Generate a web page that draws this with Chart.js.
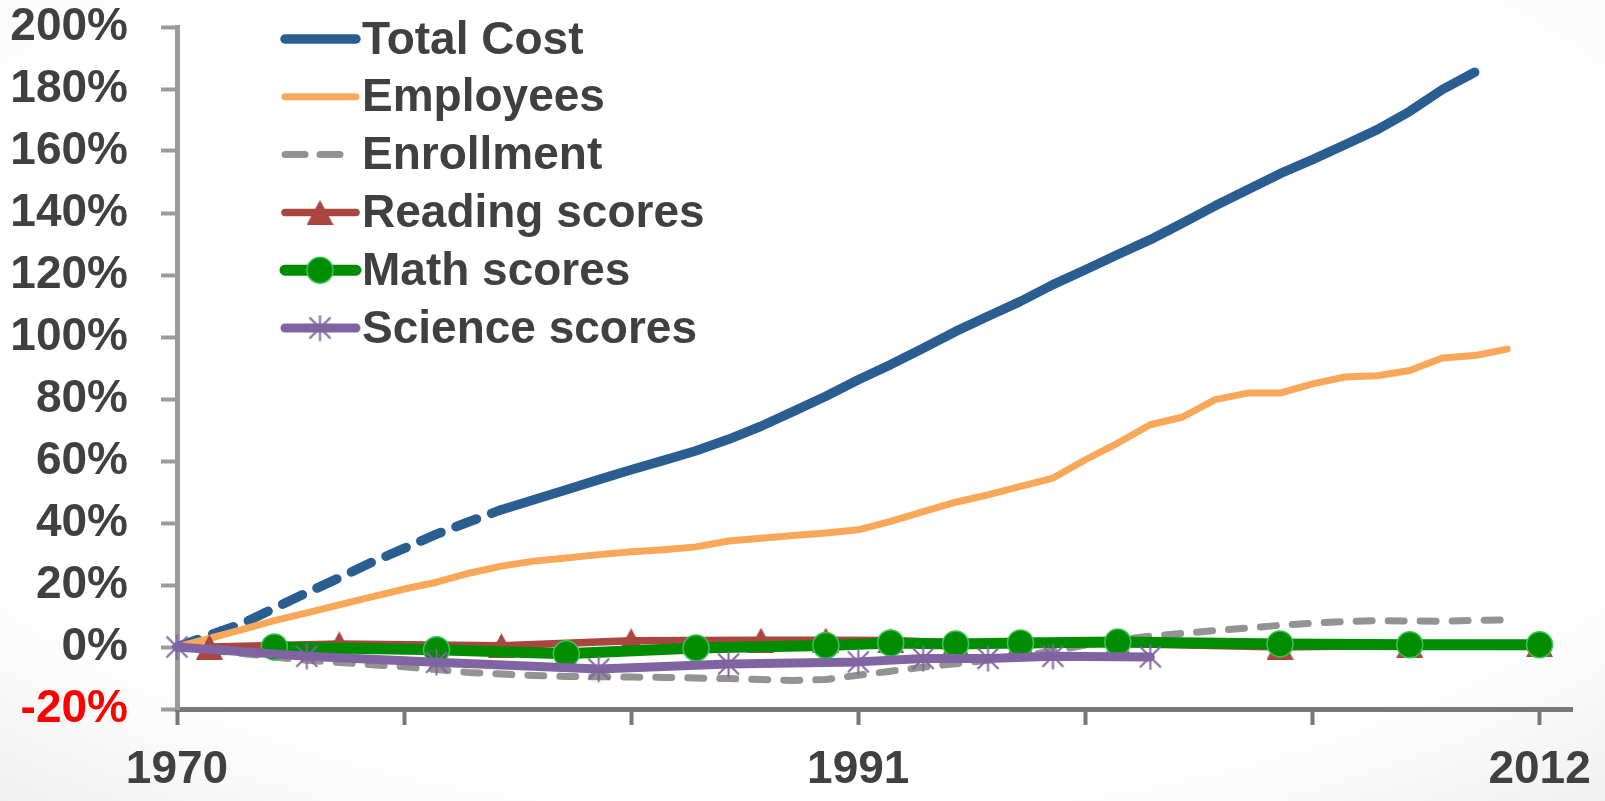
<!DOCTYPE html>
<html>
<head>
<meta charset="utf-8">
<script src="https://cdn.jsdelivr.net/npm/chart.js@4.4.1/dist/chart.umd.min.js"></script>
<style>
    html, body { margin: 0; padding: 0; }
    body {
        width: 1605px;
        height: 801px;
        overflow: hidden;
        background: radial-gradient(ellipse 80% 80% at 50% 42%, #ffffff 72%, #eeeeee 100%);
    }
    #wrap { position: relative; width: 1605px; height: 801px; }
</style>
</head>
<body>
<div id="wrap"><canvas id="trendChart"></canvas></div>
<script>
// Percent change since the first year of each series
const firstYear = 1970;

// yearly series, 1970 onward
const totalCost = [0, 3.8, 7.5, 12.5, 17.5, 22.3, 27.3, 31.8, 36.4, 40.4,
    44.3, 47.5, 50.7, 54.0, 57.2, 60.2, 63.3, 67.0, 71.2, 76.0,
    80.9, 86.2, 91.1, 96.4, 101.8, 106.7, 111.5, 116.9, 121.7, 126.6,
    131.4, 136.8, 142.3, 147.5, 152.7, 157.2, 162.0, 166.9, 172.8, 179.8,
    185.4];
const employees = [0, 2.8, 5.6, 8.5, 11.0, 13.6, 16.2, 18.7, 20.9, 23.8,
    26.1, 27.7, 28.7, 29.8, 30.7, 31.4, 32.3, 34.2, 35.1, 36.0,
    36.8, 37.8, 40.5, 43.7, 46.7, 49.1, 51.8, 54.5, 60.4, 65.8,
    71.7, 74.2, 79.8, 81.9, 81.9, 84.9, 87.1, 87.5, 89.2, 93.2,
    94.0, 96.1];
const enrollment = [0, -1.0, -2.1, -3.2, -4.3, -5.0, -5.7, -6.4, -7.3, -8.2,
    -8.7, -9.2, -9.5, -9.6, -9.7, -9.8, -10.0, -10.2, -10.5, -10.8,
    -10.5, -9.1, -7.8, -6.5, -5.4, -4.3, -3.0, -1.3, 0.6, 2.3,
    3.5, 4.4, 5.3, 6.1, 7.0, 7.7, 8.2, 8.5, 8.4, 8.3,
    8.6, 8.7];
// total cost is estimated (dashed) up to this index
const costEstimatedUntil = 10;

// test score series, irregular years
const readingYears = [1971, 1975, 1980, 1984, 1988, 1990, 1992, 1994, 1996, 1999, 2004, 2008, 2012];
const readingScores = [0, 1.0, 0.4, 2.0, 2.2, 2.2, 2.1, 1.3, 1.2, 1.1, 0, 0.6, 0.8];
const mathYears = [1973, 1978, 1982, 1986, 1990, 1992, 1994, 1996, 1999, 2004, 2008, 2012];
const mathScores = [0, -0.9, -2.2, -0.3, 0.5, 1.3, 1.0, 1.3, 1.6, 1.0, 0.7, 0.7];
const scienceYears = [1970, 1974, 1978, 1983, 1987, 1991, 1993, 1995, 1997, 2000];
const scienceScores = [0, -3.0, -4.9, -7.1, -5.5, -4.8, -3.7, -3.7, -3.0, -3.2];

// axis ticks
const xTicks = [1970, 1977, 1984, 1991, 1998, 2005, 2012];
const xLabels = [1970, 1991, 2012];

const FONT = 'Liberation Sans';
const TEXT = '#404040';

function annual(values) {
    return values.map((v, i) => ({ x: firstYear + i, y: v }));
}
function paired(years, values) {
    return years.map((yr, i) => ({ x: yr, y: values[i] }));
}

// Excel-like markers, centred on their bounding box
function triangleMarker(color) {
    const c = document.createElement('canvas');
    c.width = 27; c.height = 25;
    const g = c.getContext('2d');
    g.fillStyle = color;
    g.beginPath();
    g.moveTo(13.5, 0);
    g.lineTo(27, 25);
    g.lineTo(0, 25);
    g.closePath();
    g.fill();
    return c;
}
function starMarker(color) {
    const c = document.createElement('canvas');
    c.width = 27; c.height = 27;
    const g = c.getContext('2d');
    g.strokeStyle = color;
    g.lineWidth = 2;
    g.beginPath();
    g.moveTo(13.5, 0.5); g.lineTo(13.5, 26.5);
    g.moveTo(3, 3); g.lineTo(24, 24);
    g.moveTo(24, 3); g.lineTo(3, 24);
    g.stroke();
    return c;
}

// Legend stacked in the upper left corner of the plot
const sideLegend = {
    id: 'sideLegend',
    afterDraw(chart) {
        const ctx = chart.ctx;
        chart.data.datasets.forEach((ds, i) => {
            const y = 39 + i * 57.8;
            ctx.save();
            ctx.strokeStyle = ds.borderColor;
            ctx.lineWidth = ds.borderWidth;
            ctx.lineCap = 'round';
            ctx.beginPath();
            if (ds.borderDash) {
                ctx.setLineDash([20, 15]);
                ctx.moveTo(285, y);
                ctx.lineTo(340, y);
            } else {
                ctx.moveTo(285, y);
                ctx.lineTo(356, y);
            }
            ctx.stroke();
            ctx.setLineDash([]);
            if (ds.pointRadius > 0) {
                ctx.fillStyle = ds.pointBackgroundColor;
                ctx.strokeStyle = ds.pointBorderColor;
                ctx.lineWidth = ds.pointBorderWidth;
                Chart.helpers.drawPoint(ctx, {
                    pointStyle: ds.pointStyle,
                    radius: ds.pointRadius,
                    rotation: 0,
                    borderWidth: ds.pointBorderWidth
                }, 320, y);
            }
            ctx.font = 'bold 46px "' + FONT + '"';
            ctx.fillStyle = TEXT;
            ctx.textAlign = 'left';
            ctx.textBaseline = 'middle';
            ctx.fillText(ds.label, 362, y + 2);
            ctx.restore();
        });
    }
};

const ctx = document.getElementById('trendChart').getContext('2d');
new Chart(ctx, {
    type: 'line',
    data: {
        datasets: [
            {
                label: 'Total Cost',
                data: annual(totalCost),
                borderColor: '#2A5E91',
                borderWidth: 9.5,
                pointRadius: 0,
                order: 5,
                segment: {
                    borderDash: c => c.p1DataIndex <= costEstimatedUntil ? [22, 16] : undefined
                }
            },
            {
                label: 'Employees',
                data: annual(employees),
                borderColor: '#F9A85A',
                borderWidth: 7,
                pointRadius: 0,
                order: 4
            },
            {
                label: 'Enrollment',
                data: annual(enrollment),
                borderColor: '#939393',
                borderWidth: 7,
                borderDash: [16, 16],
                pointRadius: 0,
                order: 3
            },
            {
                label: 'Reading scores',
                data: paired(readingYears, readingScores),
                borderColor: '#A8463F',
                borderWidth: 7.5,
                pointStyle: triangleMarker('#A8463F'),
                pointRadius: 13,
                pointBackgroundColor: '#A8463F',
                pointBorderColor: '#A8463F',
                pointBorderWidth: 0,
                order: 2
            },
            {
                label: 'Math scores',
                data: paired(mathYears, mathScores),
                borderColor: '#008C00',
                borderWidth: 11,
                pointStyle: 'circle',
                pointRadius: 13,
                pointBackgroundColor: '#008C00',
                pointBorderColor: '#3CC45C',
                pointBorderWidth: 1.5,
                order: 1
            },
            {
                label: 'Science scores',
                data: paired(scienceYears, scienceScores),
                borderColor: '#8064A2',
                borderWidth: 9,
                pointStyle: starMarker('#8064A2'),
                pointRadius: 13,
                pointBackgroundColor: '#8064A2',
                pointBorderColor: '#8064A2',
                pointBorderWidth: 2,
                order: 0
            }
        ]
    },
    options: {
        responsive: true,
        maintainAspectRatio: false,
        animation: false,
        layout: { padding: { top: 27, right: 33, left: 0, bottom: 0 } },
        elements: {
            line: { tension: 0, borderJoinStyle: 'round', borderCapStyle: 'round' }
        },
        datasets: { line: { clip: false } },
        plugins: {
            legend: { display: false },
            tooltip: { enabled: false }
        },
        scales: {
            x: {
                type: 'linear',
                min: 1970,
                max: 2013,
                afterBuildTicks: s => { s.ticks = xTicks.map(v => ({ value: v })); },
                afterFit: s => {
                    s.height = 92;
                    s.paddingLeft = 0;
                    s.paddingRight = 0;
                },
                grid: {
                    drawOnChartArea: false,
                    drawTicks: true,
                    tickLength: 16,
                    tickWidth: 4,
                    tickColor: '#787878'
                },
                border: { color: '#787878', width: 5 },
                ticks: {
                    autoSkip: false,
                    maxRotation: 0,
                    padding: 18,
                    color: TEXT,
                    font: { family: FONT, size: 46, weight: 'bold' },
                    callback: v => xLabels.includes(v) ? String(v) : ''
                }
            },
            y: {
                min: -20,
                max: 200,
                afterFit: s => {
                    s.width = 177;
                    s.paddingTop = 0;
                    s.paddingBottom = 0;
                },
                grid: {
                    drawOnChartArea: false,
                    drawTicks: true,
                    tickLength: 16,
                    tickWidth: 4,
                    tickColor: '#9B9B9B'
                },
                border: { color: '#9B9B9B', width: 5 },
                ticks: {
                    stepSize: 20,
                    padding: 33,
                    color: c => c.tick.value < 0 ? '#FF0000' : TEXT,
                    font: { family: FONT, size: 46, weight: 'bold' },
                    callback: v => v + '%'
                }
            }
        }
    },
    plugins: [sideLegend]
});
</script>
</body>
</html>
